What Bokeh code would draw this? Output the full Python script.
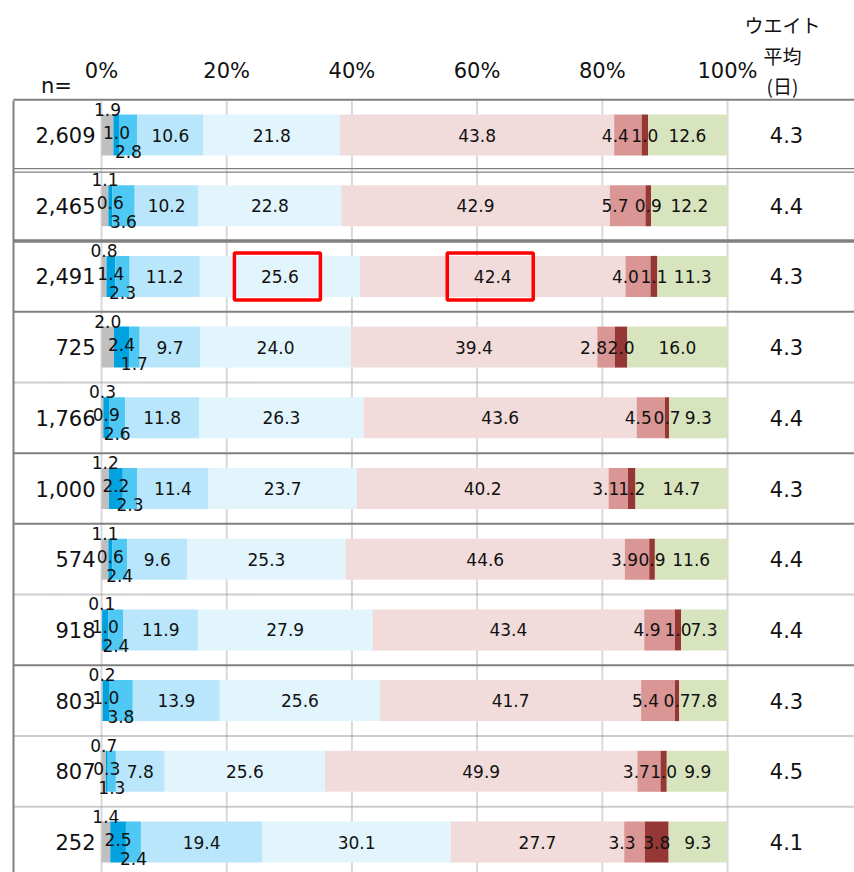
import numpy as np
from bokeh.plotting import figure
from bokeh.models import ColumnDataSource, Range1d
from bokeh.core.properties import value
from bokeh.embed import file_html
from bokeh.resources import INLINE

# ---------------- data ----------------
n_labels = ["2,609", "2,465", "2,491", "725", "1,766", "1,000", "574", "918", "803", "807", "252"]
weights = ["4.3", "4.4", "4.3", "4.3", "4.4", "4.3", "4.4", "4.4", "4.3", "4.5", "4.1"]
ticks = [0, 20, 40, 60, 80, 100]
tick_labels = ["0%", "20%", "40%", "60%", "80%", "100%"]

s1 = [1.9, 1.1, 0.8, 2.0, 0.3, 1.2, 1.1, 0.1, 0.2, 0.7, 1.4]
s2 = [1.0, 0.6, 1.4, 2.4, 0.9, 2.2, 0.6, 1.0, 1.0, 0.3, 2.5]
s3 = [2.8, 3.6, 2.3, 1.7, 2.6, 2.3, 2.4, 2.4, 3.8, 1.3, 2.4]
s4 = [10.6, 10.2, 11.2, 9.7, 11.8, 11.4, 9.6, 11.9, 13.9, 7.8, 19.4]
s5 = [21.8, 22.8, 25.6, 24.0, 26.3, 23.7, 25.3, 27.9, 25.6, 25.6, 30.1]
s6 = [43.8, 42.9, 42.4, 39.4, 43.6, 40.2, 44.6, 43.4, 41.7, 49.9, 27.7]
s7 = [4.4, 5.7, 4.0, 2.8, 4.5, 3.1, 3.9, 4.9, 5.4, 3.7, 3.3]
s8 = [1.0, 0.9, 1.1, 2.0, 0.7, 1.2, 0.9, 1.0, 0.7, 1.0, 3.8]
s9 = [12.6, 12.2, 11.3, 16.0, 9.3, 14.7, 11.6, 7.3, 7.8, 9.9, 9.3]

series = [s1, s2, s3, s4, s5, s6, s7, s8, s9]
names = ["s1", "s2", "s3", "s4", "s5", "s6", "s7", "s8", "s9"]
colors = ["#bfbfbf", "#00a2e0", "#4fc8f4", "#b9e6fa", "#e2f4fc",
          "#f2dcdb", "#d99694", "#953735", "#d7e4bd"]

# separator style above each row (index 0 = top border)
sep_styles = ["solid", "double", "thick", "solid", "dotted", "solid",
              "solid", "dotted", "solid", "dotted", "dotted"]
highlight_row = 2
highlight_segments = [4, 5]

# ---------------- layout ----------------
W, H = 854, 872
SX = 6.26          # px per percent
ROW0 = 134.5       # y of first row centre (page px)
PITCH = 70.7       # px per row


def xd(wx):
    return (wx - 101.0) / SX


def yd(wy):
    return (wy - ROW0) / PITCH


rows = list(range(len(n_labels)))

p = figure(width=W, height=H, output_backend="svg", toolbar_location=None,
           x_range=Range1d(xd(0), xd(W)), y_range=Range1d(yd(H), yd(0)),
           min_border=0, title=None)
p.xaxis.visible = False
p.yaxis.visible = False
p.grid.visible = False
p.outline_line_color = None
p.background_fill_color = "white"
p.border_fill_color = "white"

# vertical grid lines
p.segment(x0=ticks, y0=[yd(100)] * len(ticks), x1=ticks, y1=[yd(880)] * len(ticks),
          line_color="#d9d9d9", line_width=2)

# stacked bars
data = {"row": rows}
for nm, s in zip(names, series):
    data[nm] = s
src = ColumnDataSource(data)
p.hbar_stack(names, y="row", height=0.58, color=colors, source=src, line_width=0)

# row separators
xl, xr = xd(13), xd(860)
for i, st in enumerate(sep_styles):
    yy = i - 0.5
    if st == "double":
        d = 1.8 / PITCH
        p.segment(x0=[xl, xl], y0=[yy - d, yy + d], x1=[xr, xr], y1=[yy - d, yy + d],
                  line_color="#808080", line_width=1.2)
    elif st == "thick":
        p.segment(x0=[xl], y0=[yy], x1=[xr], y1=[yy], line_color="#808080", line_width=3.5)
    elif st == "dotted":
        p.segment(x0=[xl], y0=[yy], x1=[xr], y1=[yy], line_color="#9a9a9a",
                  line_width=2, line_dash="1 1")
    else:
        p.segment(x0=[xl], y0=[yy], x1=[xr], y1=[yy], line_color="#808080", line_width=2)

# left border
p.segment(x0=[xl], y0=[yd(100)], x1=[xl], y1=[yd(880)], line_color="#808080", line_width=2)

FONT = value("DejaVu Sans")
JP = value("Noto Sans CJK JP")

# segment labels
arr = np.array(series)            # (9, rows)
cum = np.cumsum(arr, axis=0)
left = cum - arr
centers = left + arr / 2.0

# vertical offsets (px) for the three small leading segments
voff = {0: -26, 1: -3, 2: 16}
for k in range(len(series)):
    xs, ys, ts = [], [], []
    for r in rows:
        xs.append(centers[k, r])
        ys.append(r + voff.get(k, 0) / PITCH)
        ts.append("%.1f" % series[k][r])
    if k == 6:
        xs = [x + 0.15 for x in xs]
        p.text(x=xs, y=ys, text=ts, text_align="right", text_baseline="middle",
               text_font=FONT, text_font_size="17px", text_color="#111111")
    else:
        p.text(x=xs, y=ys, text=ts, text_align="center", text_baseline="middle",
               text_font=FONT, text_font_size="17px", text_color="#111111")

# highlight boxes
hx = [centers[k, highlight_row] - 0.4 for k in highlight_segments]
p.rect(x=hx, y=[highlight_row] * len(hx), width=86, height=47,
       width_units="screen", height_units="screen",
       fill_color=None, line_color="#ff0000", line_width=3.5)

# n column and weight column
p.text(x=[xd(95)] * len(rows), y=rows, text=n_labels, text_align="right",
       text_baseline="middle", text_font=FONT, text_font_size="21px", text_color="#111111")
p.text(x=[xd(786)] * len(rows), y=rows, text=weights, text_align="center",
       text_baseline="middle", text_font=FONT, text_font_size="21px", text_color="#111111")

# header
p.text(x=ticks, y=[yd(70)] * len(ticks), text=tick_labels, text_align="center",
       text_baseline="middle", text_font=FONT, text_font_size="21px", text_color="#111111")
p.text(x=[xd(56)], y=[yd(85)], text=["n="], text_align="center",
       text_baseline="middle", text_font=FONT, text_font_size="21px", text_color="#111111")
p.text(x=[xd(782)] * 3, y=[yd(24), yd(55), yd(85)], text=["ウエイト", "平均", "(日)"],
       text_align="center", text_baseline="middle", text_font=JP,
       text_font_size="19px", text_color="#111111")

open("out.html", "w").write(file_html(p, INLINE))
